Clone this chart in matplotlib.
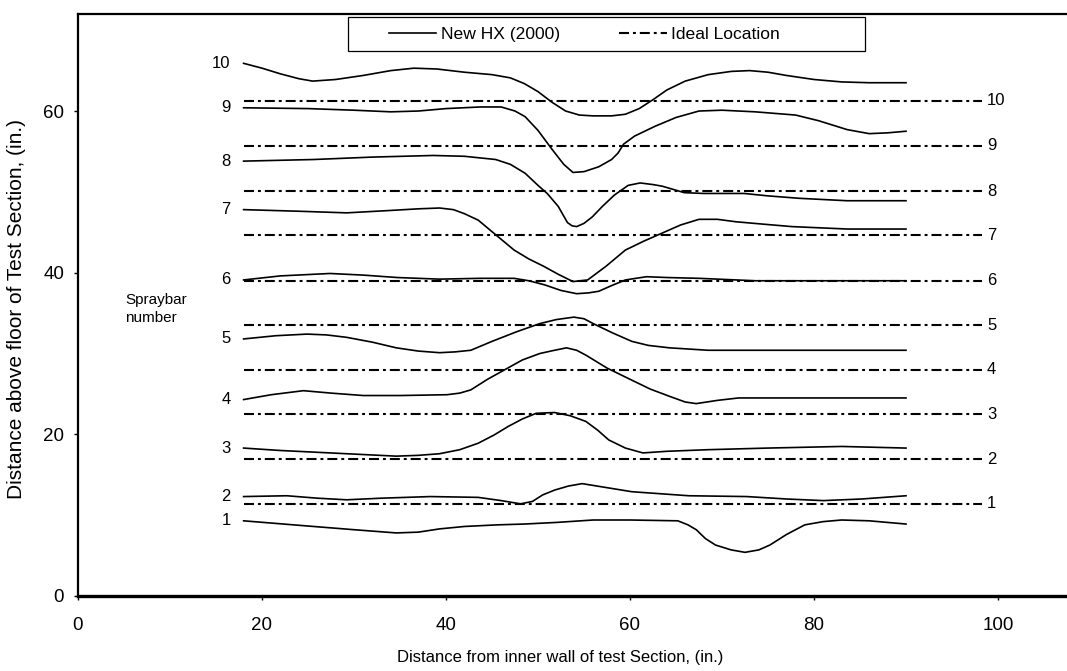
import matplotlib
matplotlib.use("Agg")
import matplotlib.pyplot as plt
from matplotlib.patches import Rectangle

plt.rcParams['font.family'] = ['Liberation Sans', 'DejaVu Sans']

# measured spraybar positions, New HX (2000)
x10 = [18, 20, 22, 24, 25.5, 28, 31, 34, 36.5, 39, 42, 45, 47, 48.5, 50, 51.5, 53, 54.5, 56, 58,
       59.5, 61, 62.5, 64, 66, 68.5, 71, 73, 75, 77, 80, 83, 86, 90]
y10 = [65.9, 65.3, 64.6, 64.0, 63.7, 63.9, 64.4, 65.0, 65.3, 65.2, 64.8, 64.5, 64.1, 63.4, 62.4, 61.1, 60.0, 59.5, 59.4, 59.4,
       59.6, 60.3, 61.4, 62.6, 63.7, 64.5, 64.9, 65.0, 64.8, 64.4, 63.9, 63.6, 63.5, 63.5]
x9 = [18, 25, 30, 34, 37, 40, 43.7, 46, 47.5, 48.6, 50, 51.5, 52.8, 53.8, 55, 56.6, 58, 58.7, 59.3, 60.5,
      62.7, 65, 67.5, 70, 73.6, 78, 80.5, 83.6, 86, 88, 90]
y9 = [60.4, 60.3, 60.1, 59.9, 60.0, 60.3, 60.5, 60.5, 60.0, 59.3, 57.6, 55.3, 53.4, 52.4, 52.5, 53.1, 54.0, 54.8, 55.9, 56.9,
      58.1, 59.2, 60.0, 60.1, 59.9, 59.5, 58.8, 57.7, 57.2, 57.3, 57.5]
x8 = [18, 25.6, 32, 38.6, 42, 45.4, 47, 48.6, 50, 51, 52.2, 53.2, 53.7, 54.2, 55, 55.9, 57, 58.3, 59.8, 61.1,
      62.5, 63.5, 65.9, 68, 72.4, 75, 78.4, 83.6, 90]
y8 = [53.8, 54.0, 54.3, 54.5, 54.4, 54.0, 53.4, 52.3, 50.8, 49.8, 48.2, 46.2, 45.8, 45.7, 46.1, 46.9, 48.2, 49.6, 50.8, 51.1,
      50.9, 50.7, 49.9, 49.8, 49.8, 49.5, 49.2, 48.9, 48.9]
x7 = [18, 24, 29.2, 34, 37, 39.3, 40.8, 42, 43.5, 45.5, 47.4, 49, 50.6, 52.2, 53.8, 55.4, 57.4, 59.5, 61.5, 63.5,
      65.5, 67.5, 69.5, 71.5, 74.5, 77.6, 83.6, 90]
y7 = [47.8, 47.6, 47.4, 47.7, 47.9, 48.0, 47.8, 47.3, 46.5, 44.6, 42.8, 41.7, 40.8, 39.8, 38.9, 39.1, 40.8, 42.8, 43.9, 44.9,
      45.9, 46.6, 46.6, 46.3, 46.0, 45.7, 45.4, 45.4]
x6 = [18, 22, 27.4, 31, 34.7, 39.3, 43.7, 47.4, 49, 50.7, 52.5, 54.2, 55.5, 56.6, 58, 59.5, 61.8, 64, 67.5, 73.6, 90]
y6 = [39.1, 39.6, 39.9, 39.7, 39.4, 39.2, 39.3, 39.3, 39.0, 38.5, 37.8, 37.4, 37.5, 37.7, 38.4, 39.1, 39.5, 39.4, 39.3, 39.0, 39.0]
x5 = [18, 21.5, 24.9, 27, 29.2, 32, 34.6, 37, 39.3, 41, 42.7, 45, 47.7, 50.2, 52, 53.9, 55, 56, 58, 60.2,
      62, 64.3, 68.5, 75, 90]
y5 = [31.8, 32.2, 32.4, 32.3, 32.0, 31.4, 30.7, 30.3, 30.1, 30.2, 30.4, 31.5, 32.7, 33.7, 34.2, 34.5, 34.3, 33.7, 32.6, 31.5,
      31.0, 30.7, 30.4, 30.4, 30.4]
x4 = [18, 21, 24.5, 27.5, 31, 35, 40.1, 41.5, 42.7, 44.5, 46.4, 48.3, 50.2, 51.8, 53.1, 54.2, 55.2, 57.5, 60.2, 62.2,
      64.3, 66, 67.2, 69.5, 71.8, 90]
y4 = [24.3, 24.9, 25.4, 25.1, 24.8, 24.8, 24.9, 25.1, 25.5, 26.8, 28.0, 29.2, 30.0, 30.4, 30.7, 30.4, 29.8, 28.2, 26.7, 25.6,
      24.7, 24.0, 23.8, 24.2, 24.5, 24.5]
x3 = [18, 22, 27.4, 31, 34.6, 37, 39.3, 41.5, 43.5, 45.2, 46.8, 48.3, 49.8, 51.8, 53.5, 55.2, 56.5, 57.7, 59.5, 61.4,
      64, 68.5, 75, 83, 90]
y3 = [18.3, 18.0, 17.7, 17.5, 17.3, 17.4, 17.6, 18.1, 18.9, 19.9, 21.0, 21.9, 22.6, 22.7, 22.3, 21.6, 20.5, 19.3, 18.3, 17.7,
      17.9, 18.1, 18.3, 18.5, 18.3]
x2 = [18, 22.7, 26, 29.2, 33, 38.3, 43.5, 46, 48.1, 49.4, 50.5, 51.8, 53.3, 54.8, 57.5, 60.2, 66.4, 72.7, 77, 81,
      85.2, 90]
y2 = [12.3, 12.4, 12.1, 11.9, 12.1, 12.3, 12.2, 11.8, 11.4, 11.7, 12.5, 13.1, 13.6, 13.9, 13.4, 12.9, 12.4, 12.3, 12.0, 11.8,
      12.0, 12.4]
x1 = [18, 25.6, 30, 34.6, 37, 39.3, 42, 45.6, 48.5, 52, 56, 60, 65.2, 66.3, 67.2, 68.2, 69.3, 71, 72.5, 74,
      75.2, 77, 79, 81, 83, 86, 90]
y1 = [9.3, 8.6, 8.2, 7.8, 7.9, 8.3, 8.6, 8.8, 8.9, 9.1, 9.4, 9.4, 9.3, 8.8, 8.2, 7.1, 6.3, 5.7, 5.4, 5.7,
      6.3, 7.6, 8.8, 9.2, 9.4, 9.3, 8.9]

curves_x = [x1, x2, x3, x4, x5, x6, x7, x8, x9, x10]
curves_y = [y1, y2, y3, y4, y5, y6, y7, y8, y9, y10]
bar_labels = ['1', '2', '3', '4', '5', '6', '7', '8', '9', '10']

# ideal spraybar heights
ideal_y = [11.4, 16.9, 22.5, 28.0, 33.5, 39.0, 44.6, 50.1, 55.7, 61.3]
ideal_x = [18, 98.3]

fig = plt.figure(figsize=(10.67, 6.71), dpi=100)
ax = fig.add_axes([0.0731, 0.1118, 0.9269, 0.8673])

dash = (0, (4.8, 1.9, 1.4, 1.9))
for i in range(10):
    ax.plot(curves_x[i], curves_y[i], color='black', lw=1.2,
            label='New HX (2000)' if i == 0 else None)
    ax.plot(ideal_x, [ideal_y[i], ideal_y[i]], color='black', lw=1.5, linestyle=dash,
            label='Ideal Location' if i == 0 else None)
    ax.text(16.6, curves_y[i][0], bar_labels[i], ha='right', va='center', fontsize=12)
    ax.text(98.8, ideal_y[i], bar_labels[i], ha='left', va='center', fontsize=12)

ax.text(5.1, 36.6, 'Spraybar', ha='left', va='center', fontsize=11)
ax.text(5.1, 34.4, 'number', ha='left', va='center', fontsize=11)

ax.set_xlim(0, 107.5)
ax.set_ylim(0, 72)
ax.set_xticks([0, 20, 40, 60, 80, 100])
ax.set_yticks([0, 20, 40, 60])
ax.tick_params(labelsize=13.5, length=3, width=1, direction='out')
ax.tick_params(axis='x', pad=12)
ax.tick_params(axis='y', pad=7)
ax.set_xlabel('Distance from inner wall of test Section, (in.)', fontsize=12)
ax.set_ylabel('Distance above floor of Test Section, (in.)', fontsize=15)
ax.xaxis.set_label_coords(0.488, -0.093)
ax.yaxis.set_label_coords(-0.053, 0.493)

for s in ['left', 'top']:
    ax.spines[s].set_linewidth(1.6)
ax.spines['bottom'].set_linewidth(2.4)
ax.spines['right'].set_visible(False)

# legend box drawn separately so its size matches the original
ax.add_patch(Rectangle((0.273, 0.9364), 0.5228, 0.0584, transform=ax.transAxes,
                       facecolor='white', edgecolor='black', lw=0.9, zorder=4))
leg = ax.legend(loc='center left', bbox_to_anchor=(0.3145, 0.9656), ncol=2, fontsize=12.6,
                frameon=False, handlelength=2.7, handletextpad=0.25, columnspacing=3.4,
                borderpad=0, borderaxespad=0)
leg.set_zorder(5)

fig.savefig('out.png', dpi=100)
